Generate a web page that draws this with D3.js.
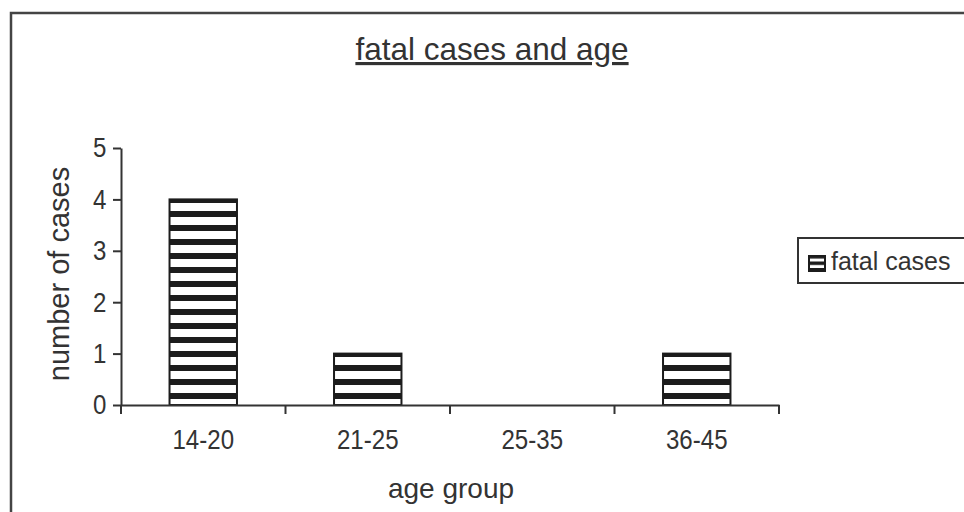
<!doctype html>
<html>
  <head>
    <script src="https://cdnjs.cloudflare.com/ajax/libs/d3/7.8.5/d3.min.js"></script>
    <style>
      body { margin: 0; background: #fff; }
      svg { display: block; font-family: "Liberation Sans", Arial, sans-serif; }
      text { fill: #333; }
      .axis path, .axis line { stroke: #333; stroke-width: 2; }
      .axis text { font-size: 28px; fill: #333; }
    </style>
  </head>
  <body>
    <svg width="964" height="512"></svg>
    <script>
      // data
      var ageGroups = ["14-20", "21-25", "25-35", "36-45"];
      var fatalCases = [4, 1, 0, 1];
      var yTicks = [0, 1, 2, 3, 4, 5];

      var svg = d3.select("svg");

      // outer frame, runs off the right and bottom edge
      svg.append("rect")
        .attr("x", 11).attr("y", 13)
        .attr("width", 980).attr("height", 520)
        .attr("fill", "none")
        .attr("stroke", "#444")
        .attr("stroke-width", 2.5);

      // horizontal stripe fill
      var defs = svg.append("defs");
      var pat = defs.append("pattern")
        .attr("id", "stripes")
        .attr("patternUnits", "userSpaceOnUse")
        .attr("x", 0).attr("y", 197)
        .attr("width", 14).attr("height", 14);
      pat.append("rect").attr("width", 14).attr("height", 14).attr("fill", "#fff");
      pat.append("rect").attr("width", 14).attr("height", 6).attr("fill", "#1c1c1c");

      var legPat = defs.append("pattern")
        .attr("id", "legstripes")
        .attr("patternUnits", "userSpaceOnUse")
        .attr("x", 0).attr("y", 255)
        .attr("width", 6).attr("height", 6.5);
      legPat.append("rect").attr("width", 6).attr("height", 6.5).attr("fill", "#fff");
      legPat.append("rect").attr("width", 6).attr("height", 3.5).attr("fill", "#1c1c1c");

      var x = d3.scaleBand()
        .domain(ageGroups)
        .range([121, 779])
        .paddingInner(0.59)
        .paddingOuter(0.295);

      var y = d3.scaleLinear()
        .domain([0, 5])
        .range([405, 148]);

      // bars
      svg.selectAll("rect.bar")
        .data(ageGroups.map((g, i) => ({ group: g, value: fatalCases[i] })).filter(d => d.value > 0))
        .enter()
        .append("rect")
          .attr("class", "bar")
          .attr("x", d => x(d.group))
          .attr("y", d => y(d.value))
          .attr("width", x.bandwidth())
          .attr("height", d => y(0) - y(d.value))
          .attr("fill", "url(#stripes)")
          .attr("stroke", "#1c1c1c")
          .attr("stroke-width", 2);

      // y axis
      svg.append("g")
        .attr("class", "axis")
        .attr("transform", "translate(121,0)")
        .call(d3.axisLeft(y).tickValues(yTicks).tickFormat(d3.format("d"))
          .tickSize(8).tickSizeOuter(0).tickPadding(9))
        .selectAll("text").attr("transform", "scale(0.86,1)");

      // x axis: labels centred in bands, ticks on band edges
      var xAxis = svg.append("g")
        .attr("class", "axis")
        .attr("transform", "translate(0,405)")
        .call(d3.axisBottom(x).tickSize(0).tickSizeOuter(0).tickPadding(24));
      xAxis.selectAll("text").attr("transform", "scale(0.86,1)");

      var half = (x.step() - x.bandwidth()) / 2;
      var edges = ageGroups.map(g => x(g) - half).concat([x.range()[1]]);
      xAxis.selectAll("line.edge")
        .data(edges)
        .enter()
        .append("line")
          .attr("class", "edge")
          .attr("x1", d => d).attr("x2", d => d)
          .attr("y1", 0).attr("y2", 9);

      // titles
      svg.append("text")
        .attr("x", 492).attr("y", 60)
        .attr("text-anchor", "middle")
        .style("font-size", "31.5px")
        .style("text-decoration", "underline")
        .text("fatal cases and age");

      svg.append("text")
        .attr("x", 451).attr("y", 498)
        .attr("text-anchor", "middle")
        .style("font-size", "28px")
        .text("age group");

      svg.append("text")
        .attr("transform", "translate(69,274) rotate(-90)")
        .attr("text-anchor", "middle")
        .style("font-size", "29px")
        .text("number of cases");

      // legend
      var leg = svg.append("g");
      leg.append("rect")
        .attr("x", 798).attr("y", 238)
        .attr("width", 200).attr("height", 45)
        .attr("fill", "#fff")
        .attr("stroke", "#333")
        .attr("stroke-width", 2);
      leg.append("rect")
        .attr("x", 809).attr("y", 256)
        .attr("width", 16).attr("height", 15)
        .attr("fill", "url(#legstripes)")
        .attr("stroke", "#1c1c1c")
        .attr("stroke-width", 2);
      leg.append("text")
        .attr("x", 831).attr("y", 270)
        .style("font-size", "25px")
        .text("fatal cases");
    </script>
  </body>
</html>
